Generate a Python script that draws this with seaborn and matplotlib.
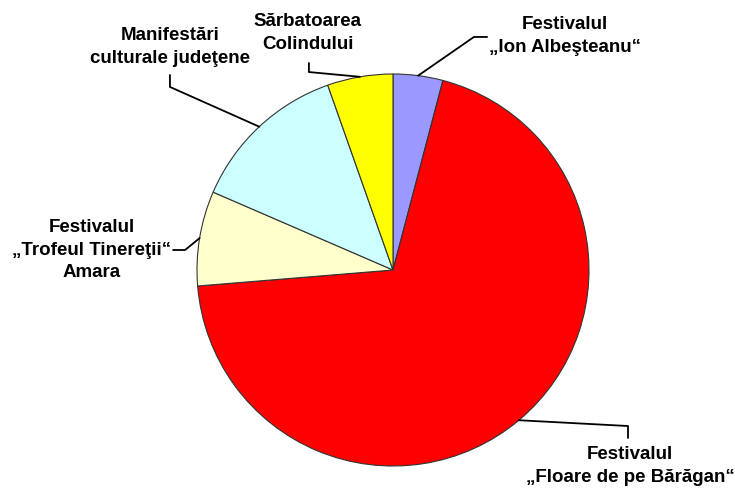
import numpy as np
import matplotlib
matplotlib.use("Agg")
import matplotlib.pyplot as plt
import seaborn as sns

# slices clockwise from 12 o'clock
labels = [
    "Festivalul\n„Ion Albeşteanu“",
    "Festivalul\n„Floare de pe Bărăgan“",
    "Festivalul\n„Trofeul Tinereţii“\nAmara",
    "Manifestări\nculturale judeţene",
    "Sărbatoarea\nColindului",
]
shares = [4.1, 69.6, 7.8, 13.1, 5.4]
colors = ["#9999FF", "#FF0000", "#FFFFCC", "#CCFFFF", "#FFFF00"]

sns.set_theme(style="white")
plt.rcParams["font.family"] = ["Liberation Sans", "DejaVu Sans"]

fig = plt.figure(figsize=(7.35, 4.91), dpi=100)
ax = fig.add_axes([197 / 735, 25 / 491, 392 / 735, 392 / 491])
wedges, _ = ax.pie(
    shares, colors=colors, startangle=90, counterclock=False,
    wedgeprops=dict(edgecolor="#333333", linewidth=0.8),
)
ax.set_aspect("equal")
ax.set_xlim(-1, 1)
ax.set_ylim(-1, 1)

# leader elbows and label centres, in pie radius units
elbows = [
    [(0.413, 1.189), (0.480, 1.189)],
    [(1.199, -0.796), (1.199, -0.857)],
    [(-1.061, 0.102), (-1.122, 0.102)],
    [(-1.138, 0.934), (-1.138, 0.995)],
    [(-0.429, 1.010), (-0.429, 1.056)],
]
text_pos = [(0.878, 1.194), (1.209, -1.0), (-1.536, 0.102), (-1.138, 1.138), (-0.434, 1.209)]

for w, lab, elb, tp in zip(wedges, labels, elbows, text_pos):
    ang = np.deg2rad((w.theta1 + w.theta2) / 2)
    pts = [(np.cos(ang), np.sin(ang))] + elb
    xs, ys = zip(*pts)
    ax.plot(xs, ys, color="black", lw=1.3, clip_on=False)
    ax.text(tp[0], tp[1], lab, ha="center", va="center", fontsize=13.5,
            fontweight="bold", color="black", linespacing=1.4, clip_on=False)

fig.savefig("out.png", dpi=100, facecolor="white")
